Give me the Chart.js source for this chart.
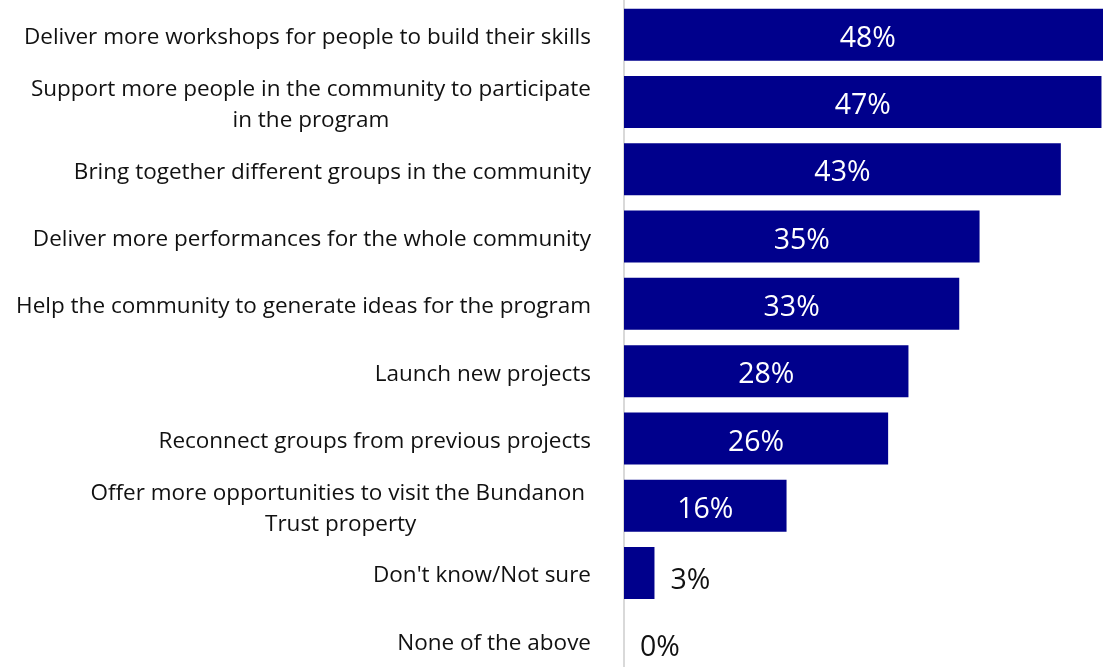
<!DOCTYPE html>
<html>
<head>
<meta charset="utf-8">
<script src="https://cdn.jsdelivr.net/npm/chart.js@4/dist/chart.umd.min.js"></script>
<style>
    html, body { margin: 0; padding: 0; background: #fff; overflow: hidden; }
    #wrap { position: absolute; left: 0; top: 0; width: 1103px; height: 674px; }
</style>
</head>
<body>
<div id="wrap"><canvas id="barOptions"></canvas></div>
<script>

// Survey answers, one entry per row (lines as they wrap)
const categories = [
    ['Deliver more workshops for people to build their skills'],
    ['Support more people in the community to participate', 'in the program'],
    ['Bring together different groups in the community'],
    ['Deliver more performances for the whole community'],
    ['Help the community to generate ideas for the program'],
    ['Launch new projects'],
    ['Reconnect groups from previous projects'],
    ['Offer more opportunities to visit the Bundanon ', 'Trust property'],
    ["Don't know/Not sure"],
    ['None of the above']
];

const percentages = [48, 47, 43, 35, 33, 28, 26, 16, 3, 0];

const barColor = '#00008c';
const textColor = '#111111';
const labelFont = '22.5px "Open Sans", "Noto Sans", sans-serif';
const valueFont = '28.5px "Open Sans", "Noto Sans", sans-serif';


// Category names, right aligned as a block, each line centred in its block
const categoryLabels = {
    id: 'categoryLabels',
    afterDraw(chart) {
        const { ctx, chartArea, scales: { y } } = chart;
        const right = chartArea.left - 33;
        const lineHeight = 31;

        ctx.save();
        ctx.font = labelFont;
        ctx.fillStyle = textColor;
        ctx.textAlign = 'center';
        ctx.textBaseline = 'middle';

        categories.forEach((lines, i) => {
            const blockWidth = Math.max(...lines.map(l => ctx.measureText(l).width));
            const cx = right - blockWidth / 2;
            const cy = y.getPixelForValue(i) + 3;
            const top = cy - (lines.length - 1) * lineHeight / 2;
            lines.forEach((line, k) => {
                ctx.fillText(line, cx, top + k * lineHeight);
            });
        });
        ctx.restore();
    }
};

// Percent labels: white inside the long bars, dark beside the short ones
const valueLabels = {
    id: 'valueLabels',
    afterDatasetsDraw(chart) {
        const { ctx } = chart;
        const meta = chart.getDatasetMeta(0);

        ctx.save();
        ctx.font = valueFont;
        ctx.textBaseline = 'middle';

        meta.data.forEach((bar, i) => {
            const value = percentages[i];
            const text = value + '%';
            if (value >= 10) {
                ctx.fillStyle = '#ffffff';
                ctx.textAlign = 'center';
                ctx.fillText(text, (bar.x + bar.base) / 2, bar.y + 4);
            } else {
                ctx.fillStyle = textColor;
                ctx.textAlign = 'left';
                ctx.fillText(text, bar.x + 16, bar.y + 8);
            }
        });
        ctx.restore();
    }
};


new Chart(document.getElementById('barOptions'), {
    type: 'bar',
    data: {
        labels: categories,
        datasets: [
            {
                data: percentages,
                backgroundColor: barColor,
                borderWidth: 0,
                barPercentage: 0.773,
                categoryPercentage: 1
            }
        ]
    },
    options: {
        indexAxis: 'y',
        responsive: true,
        maintainAspectRatio: false,
        animation: false,
        layout: {
            padding: { top: 1, right: 0, bottom: 0, left: 0 }
        },
        scales: {
            x: {
                display: false,
                min: 0,
                max: 47.15
            },
            y: {
                afterFit: (scale) => { scale.width = 624; },
                ticks: { display: false },
                grid: { display: false },
                border: { display: true, color: '#d9d9d9', width: 2 }
            }
        },
        plugins: {
            legend: { display: false },
            tooltip: { enabled: false }
        }
    },
    plugins: [categoryLabels, valueLabels]
});

</script>
</body>
</html>
